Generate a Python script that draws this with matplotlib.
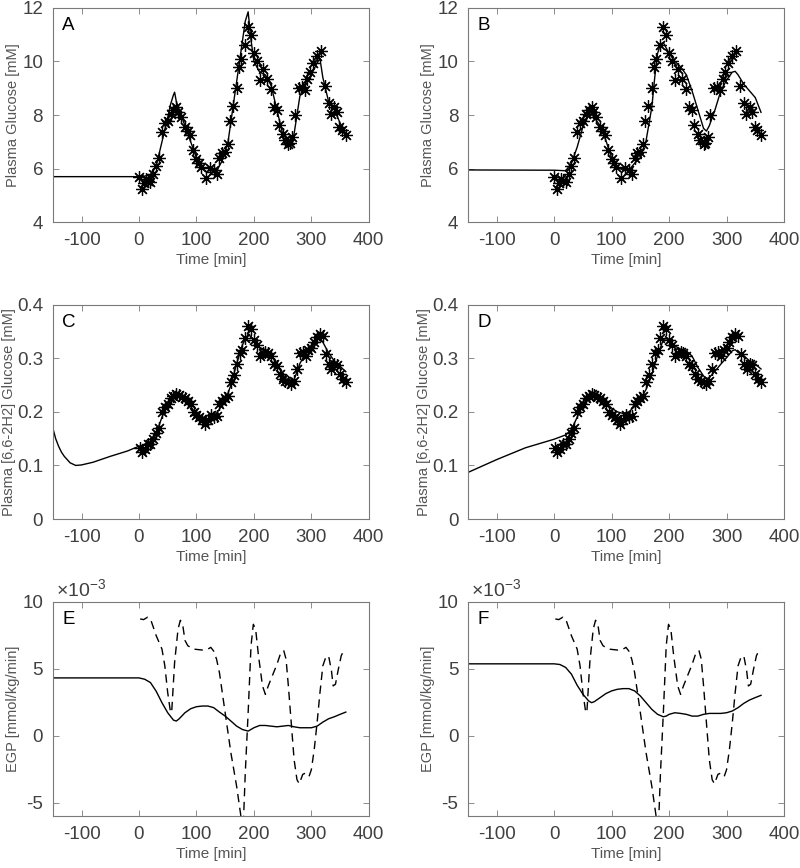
import matplotlib
matplotlib.use('Agg')
import matplotlib.pyplot as plt

plt.rcParams['font.family'] = ['Liberation Sans', 'DejaVu Sans']
plt.rcParams['axes.unicode_minus'] = False
plt.rcParams['mathtext.fontset'] = 'custom'
plt.rcParams['mathtext.rm'] = 'Liberation Sans'

# measured plasma glucose [mM] (asterisks, panels A and B)
glu_t = [0, 5, 8, 12, 15, 20, 25, 30, 35, 40, 45, 50, 55, 60, 65, 68, 73, 80, 85, 88,
         94, 100, 104, 108, 116, 123, 130, 135, 140, 145, 150, 155, 158, 164, 170, 174,
         178, 184, 189, 195, 200, 205, 210, 216, 222, 229, 235, 240, 244, 250, 254, 260,
         263, 267, 272, 278, 284, 289, 293, 298, 303, 309, 316, 324, 330, 334, 340, 344,
         349, 353, 360]
glu_obs = [5.69, 5.25, 5.45, 5.6, 5.55, 5.5, 5.8, 6.1, 6.4, 7.37, 7.7, 7.78, 8.05, 8.2, 8.3,
           8.1, 7.93, 7.55, 7.4, 7.24, 6.68, 6.37, 6.2, 6.05, 5.66, 6.04, 5.95, 5.8, 6.4,
           6.6, 6.62, 6.93, 7.78, 8.33, 9.02, 9.8, 10.1, 10.6, 11.3, 10.97, 10.3, 10.0,
           9.3, 9.73, 9.36, 8.98, 8.3, 8.17, 7.62, 7.3, 7.06, 6.93, 6.95, 7.18, 8.0, 9.02,
           9.05, 8.92, 9.36, 9.6, 9.94, 10.2, 10.37, 9.1, 8.43, 8.05, 8.3, 8.1, 7.55, 7.43,
           7.24]

# model fit, panel A
fitA_t = [-150, 0, 10, 20, 30, 40, 50, 55, 60, 62, 65, 75, 90, 100, 110, 120, 135, 145,
          155, 165, 175, 185, 190, 195, 200, 210, 220, 230, 240, 250, 260, 265, 270, 280,
          290, 300, 310, 315, 320, 330, 340, 350, 360]
fitA = [5.7, 5.7, 5.72, 5.78, 6.1, 7.0, 7.9, 8.4, 8.75, 8.85, 8.5, 7.9, 7.0, 6.4, 6.0,
        5.85, 5.9, 6.3, 7.0, 8.5, 10.0, 11.5, 11.85, 10.8, 10.0, 9.6, 9.5, 9.1, 8.2, 7.3,
        7.0, 6.95, 7.3, 8.7, 9.2, 9.5, 9.95, 10.1, 9.4, 8.5, 8.2, 7.7, 7.3]

# model fit, panel B
fitB_t = [-150, 0, 20, 30, 40, 50, 60, 65, 80, 90, 100, 110, 120, 130, 140, 150, 160,
          170, 175, 180, 185, 190, 200, 210, 220, 230, 240, 250, 260, 265, 270, 280, 290,
          300, 310, 315, 320, 330, 340, 350, 360]
fitB = [5.95, 5.94, 5.92, 6.2, 6.8, 7.56, 8.0, 8.05, 7.6, 7.05, 6.4, 6.06, 5.94, 5.94,
        6.2, 6.4, 7.05, 8.3, 9.4, 10.3, 10.65, 10.7, 10.3, 10.0, 9.8, 9.5, 8.9, 8.2, 7.5,
        7.4, 7.6, 8.2, 8.9, 9.3, 9.6, 9.63, 9.5, 9.15, 8.9, 8.65, 8.1]

# measured plasma [6,6-2H2] glucose [mM] (asterisks, panels C and D)
lab_t = [2, 5, 10, 15, 20, 25, 30, 35, 40, 45, 50, 55, 60, 65, 70, 75, 80, 85, 90, 95,
         100, 105, 110, 115, 120, 125, 130, 135, 140, 145, 150, 155, 160, 165, 170, 175,
         180, 185, 190, 195, 200, 205, 210, 215, 220, 225, 230, 235, 240, 245, 250, 255,
         260, 265, 270, 275, 280, 285, 290, 295, 300, 305, 310, 315, 320, 325, 330, 335,
         340, 345, 350, 355, 360]
lab_obs = [0.133, 0.125, 0.13, 0.14, 0.14, 0.15, 0.16, 0.17, 0.2, 0.21, 0.215, 0.225,
           0.23, 0.233, 0.232, 0.228, 0.225, 0.22, 0.215, 0.2, 0.195, 0.19, 0.185, 0.178,
           0.185, 0.195, 0.19, 0.192, 0.215, 0.22, 0.225, 0.23, 0.255, 0.268, 0.29, 0.31,
           0.315, 0.337, 0.36, 0.355, 0.335, 0.325, 0.305, 0.31, 0.312, 0.31, 0.305, 0.29,
           0.285, 0.27, 0.262, 0.258, 0.255, 0.252, 0.258, 0.28, 0.31, 0.312, 0.305, 0.315,
           0.32, 0.33, 0.34, 0.345, 0.342, 0.308, 0.29, 0.28, 0.29, 0.288, 0.27, 0.262,
           0.255]

# model fit, panel C
fitC_t = [-150, -145, -140, -135, -130, -120, -110, -100, -80, -50, -20, 0, 10, 20, 30,
          40, 50, 60, 70, 80, 90, 100, 110, 120, 130, 140, 150, 160, 170, 180, 190, 195,
          200, 210, 220, 230, 240, 250, 260, 265, 270, 280, 290, 300, 310, 315, 320, 330,
          340, 350, 360]
fitC = [0.17, 0.15, 0.136, 0.125, 0.117, 0.105, 0.1, 0.101, 0.106, 0.117, 0.127, 0.136,
        0.138, 0.145, 0.16, 0.19, 0.215, 0.228, 0.232, 0.225, 0.21, 0.195, 0.185, 0.185,
        0.19, 0.205, 0.22, 0.25, 0.29, 0.325, 0.345, 0.34, 0.335, 0.32, 0.315, 0.305,
        0.29, 0.27, 0.255, 0.252, 0.26, 0.29, 0.31, 0.32, 0.335, 0.338, 0.33, 0.31,
        0.295, 0.285, 0.275]

# model fit, panel D
fitD_t = [-150, -100, -50, 0, 20, 30, 40, 50, 60, 70, 80, 90, 100, 110, 120, 130, 140,
          150, 160, 170, 180, 190, 195, 200, 210, 220, 230, 240, 250, 260, 265, 270, 280,
          290, 300, 310, 315, 320, 330, 340, 350, 360]
fitD = [0.087, 0.111, 0.133, 0.149, 0.157, 0.167, 0.19, 0.213, 0.226, 0.23, 0.226, 0.217,
        0.207, 0.2, 0.197, 0.2, 0.21, 0.223, 0.242, 0.27, 0.305, 0.335, 0.337, 0.332,
        0.323, 0.317, 0.314, 0.304, 0.283, 0.267, 0.262, 0.264, 0.276, 0.289, 0.301,
        0.314, 0.316, 0.311, 0.305, 0.295, 0.289, 0.28]

# EGP [x1e-3 mmol/kg/min], dashed curve (same in E and F)
egpd_t = [2, 8, 15, 20, 30, 40, 45, 50, 55, 57, 62, 68, 72, 76, 80, 85, 95, 110, 120,
          125, 130, 135, 140, 150, 160, 170, 175, 178, 180, 182, 185, 190, 195, 199, 203,
          208, 215, 220, 225, 232, 240, 247, 252, 256, 260, 265, 270, 275, 279, 285, 290,
          296, 300, 305, 310, 315, 320, 325, 330, 335, 338, 342, 347, 352, 357, 360]
egpd = [8.7, 8.65, 8.83, 8.7, 7.45, 6.45, 5.2, 3.2, 1.7, 1.8, 5.45, 7.95, 8.6, 8.3, 7.1,
        6.7, 6.45, 6.38, 6.45, 6.58, 6.3, 5.7, 4.7, 1.7, -1.3, -3.8, -5.3, -6.2, -6.5,
        -6.2, -2.8, 1.7, 6.7, 8.3, 7.95, 5.95, 3.7, 3.07, 3.7, 4.45, 5.3, 6.2, 6.33, 5.7,
        3.7, 0.95, -1.8, -3.3, -3.6, -2.9, -2.8, -3.05, -2.55, -1.05, 0.95, 3.2, 5.2,
        5.83, 5.95, 4.83, 3.7, 3.83, 4.95, 5.95, 6.4, 6.4]

# EGP model, panel E
egpE_t = [-150, 0, 10, 20, 30, 40, 50, 60, 65, 70, 80, 90, 100, 110, 120, 130, 140, 150,
          160, 170, 180, 190, 200, 210, 220, 230, 240, 250, 260, 270, 280, 290, 300, 310,
          320, 330, 340, 350, 360]
egpE = [4.3, 4.3, 4.2, 3.95, 3.3, 2.45, 1.7, 1.15, 1.08, 1.25, 1.7, 2.0, 2.15, 2.2, 2.2,
        2.08, 1.75, 1.45, 1.08, 0.7, 0.45, 0.33, 0.58, 0.75, 0.75, 0.7, 0.65, 0.7, 0.75,
        0.65, 0.58, 0.58, 0.58, 0.7, 1.0, 1.25, 1.4, 1.58, 1.75]

# EGP model, panel F
egpF_t = [-150, 0, 10, 20, 30, 40, 50, 60, 65, 70, 80, 90, 100, 110, 120, 130, 140, 150,
          160, 170, 180, 190, 195, 200, 210, 220, 230, 240, 250, 260, 270, 280, 290, 300,
          310, 320, 330, 340, 350, 360]
egpF = [5.35, 5.35, 5.3, 5.08, 4.58, 3.75, 3.08, 2.58, 2.45, 2.53, 2.83, 3.13, 3.33, 3.45,
        3.5, 3.5, 3.33, 2.95, 2.45, 1.95, 1.58, 1.4, 1.45, 1.58, 1.7, 1.65, 1.58, 1.45,
        1.45, 1.58, 1.65, 1.65, 1.65, 1.7, 1.83, 2.08, 2.4, 2.65, 2.83, 3.0]

TXT = '#404040'
SPINE = '#7a7a7a'

fig = plt.figure(figsize=(8, 8.68), dpi=100)
pos = {'A': [0.066, 0.744], 'B': [0.585, 0.744], 'C': [0.066, 0.402],
       'D': [0.585, 0.402], 'E': [0.066, 0.060], 'F': [0.585, 0.060]}
axs = {}
for k, (l, b) in pos.items():
    axs[k] = fig.add_axes([l, b, 0.395, 0.247])

star = (8, 2, 0)


def style(ax, letter, ylabel, ylab_x):
    ax.set_xlim(-150, 400)
    ax.set_xticks([-100, 0, 100, 200, 300, 400])
    ax.tick_params(direction='in', length=4, width=0.6, top=True, right=True,
                   labelsize=13.5, colors=SPINE, labelcolor=TXT, pad=7)
    for s in ax.spines.values():
        s.set_color(SPINE)
        s.set_linewidth(0.8)
    ax.set_xlabel('Time [min]', fontsize=11, color='#555555', labelpad=3)
    ax.set_ylabel(ylabel, fontsize=10.5, color='#555555', va='center')
    ax.yaxis.set_label_coords(ylab_x, 0.5)
    ax.text(0.03, 0.955, letter, transform=ax.transAxes, va='top', ha='left',
            fontsize=13.5, color='black')


for k, fit_t, fit in [('A', fitA_t, fitA), ('B', fitB_t, fitB)]:
    ax = axs[k]
    ax.plot(fit_t, fit, color='black', lw=1.0)
    ax.plot(glu_t, glu_obs, ls='none', marker=star, ms=9, mew=0.9, color='black')
    ax.set_ylim(4, 12)
    ax.set_yticks([4, 6, 8, 10, 12])
    style(ax, k, 'Plasma Glucose [mM]', -0.127)

for k, fit_t, fit in [('C', fitC_t, fitC), ('D', fitD_t, fitD)]:
    ax = axs[k]
    ax.plot(fit_t, fit, color='black', lw=1.0)
    ax.plot(lab_t, lab_obs, ls='none', marker=star, ms=9, mew=0.9, color='black')
    ax.set_ylim(0, 0.4)
    ax.set_yticks([0, 0.1, 0.2, 0.3, 0.4])
    ax.set_yticklabels(['0', '0.1', '0.2', '0.3', '0.4'])
    style(ax, k, 'Plasma [6,6-2H2] Glucose [mM]', -0.138)

for k, m_t, m in [('E', egpE_t, egpE), ('F', egpF_t, egpF)]:
    ax = axs[k]
    ax.plot(m_t, m, color='black', lw=1.0)
    ax.plot(egpd_t, egpd, color='black', lw=1.0, dashes=(6, 4))
    ax.set_ylim(-6, 10)
    ax.set_yticks([-5, 0, 5, 10])
    ax.text(0.01, 1.0, r'$\times10^{-3}$', transform=ax.transAxes, va='bottom',
            ha='left', fontsize=14, color=TXT)
    style(ax, k, 'EGP [mmol/kg/min]', -0.127)

fig.savefig('out.png', dpi=100)
